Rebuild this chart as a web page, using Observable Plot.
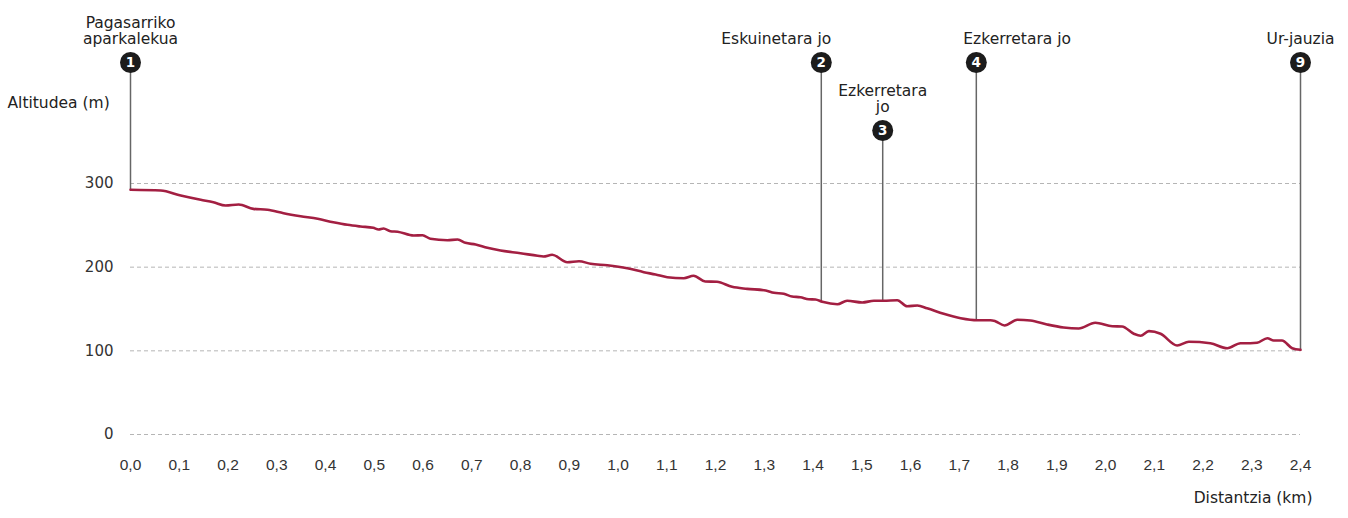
<!DOCTYPE html>
<html>
<head>
<meta charset="utf-8">
<script src="https://cdn.jsdelivr.net/npm/d3@7"></script>
<script src="https://cdn.jsdelivr.net/npm/@observablehq/plot@0.6"></script>
<style>
  html, body { margin: 0; padding: 0; background: #fff; }
  #chart { width: 1348px; height: 518px; }
</style>
</head>
<body>
<div id="chart"></div>
<script>
// Profile: distance (km) and altitude (m)
const distKm = [0.000, 0.062, 0.103, 0.144, 0.170, 0.195, 0.222, 0.252, 0.281, 0.314,
  0.349, 0.384, 0.416, 0.445, 0.472, 0.498, 0.509, 0.519, 0.533, 0.548,
  0.581, 0.599, 0.615, 0.650, 0.671, 0.687, 0.708, 0.732, 0.759, 0.800,
  0.835, 0.847, 0.865, 0.896, 0.920, 0.944, 0.978, 1.019, 1.053, 1.077,
  1.101, 1.135, 1.155, 1.179, 1.203, 1.234, 1.265, 1.303, 1.320, 1.340,
  1.357, 1.374, 1.391, 1.405, 1.419, 1.450, 1.470, 1.501, 1.525, 1.545,
  1.573, 1.593, 1.614, 1.634, 1.668, 1.703, 1.737, 1.764, 1.774, 1.793,
  1.819, 1.846, 1.880, 1.914, 1.945, 1.979, 2.014, 2.034, 2.058, 2.072,
  2.089, 2.113, 2.147, 2.171, 2.215, 2.250, 2.277, 2.297, 2.311, 2.332,
  2.345, 2.362, 2.383, 2.400];
const altM = [292.5, 291.6, 285.6, 280.5, 277.6, 273.7, 274.9, 269.7, 268.6, 264.5,
  260.9, 257.8, 253.7, 250.6, 248.6, 247.0, 245.0, 246.2, 243.0, 242.3,
  237.8, 238.2, 233.9, 232.2, 233.1, 229.1, 227.1, 223.1, 219.9, 216.7,
  213.6, 212.7, 214.8, 205.9, 207.1, 204.0, 202.3, 198.8, 194.0, 191.2,
  188.0, 186.8, 189.7, 182.9, 182.5, 176.5, 174.1, 172.1, 169.4, 168.2,
  164.9, 164.1, 161.7, 161.3, 158.6, 155.7, 159.8, 157.8, 159.8, 159.8,
  160.5, 153.3, 154.2, 150.9, 144.3, 139.0, 136.6, 136.6, 135.4, 130.3,
  137.1, 136.2, 131.5, 127.9, 126.7, 133.5, 129.4, 129.1, 120.4, 118.0,
  123.5, 120.4, 106.4, 110.8, 109.1, 103.1, 109.1, 109.1, 109.6, 115.1,
  112.3, 112.3, 103.1, 101.2];

// Waypoints
const markerIds = ["1", "2", "3", "4", "9"];
const markerLabels = ["Pagasarriko\naparkalekua", "Eskuinetara jo", "Ezkerretara\njo", "Ezkerretara jo", "Ur-jauzia"];
const markerKm = [0.0, 1.417, 1.543, 1.735, 2.4];
const markerAlt = [292.5, 158.6, 159.8, 136.6, 101.2];

// Axes
const xTicks = [0.0, 0.1, 0.2, 0.3, 0.4, 0.5, 0.6, 0.7, 0.8, 0.9, 1.0, 1.1, 1.2,
  1.3, 1.4, 1.5, 1.6, 1.7, 1.8, 1.9, 2.0, 2.1, 2.2, 2.3, 2.4];
const yTicks = [0, 100, 200, 300];
const yTitle = "Altitudea (m)";
const xTitle = "Distantzia (km)";

const profile = distKm.map((km, i) => ({km, alt: altM[i]}));
const markers = markerIds.map((id, i) => ({id, label: markerLabels[i], km: markerKm[i], alt: markerAlt[i]}));
const byId = ids => markers.filter(d => ids.includes(d.id));
const upper = byId(["1", "2", "4", "9"]);
const lower = byId(["3"]);
const yTop = yTicks[yTicks.length - 1];

const upperDy = -121, lowerDy = -53;
const labelFont = "DejaVu Sans, Verdana, sans-serif";
const labelOpts = {x: "km", text: "label", frameAnchor: "top", lineAnchor: "bottom", lineHeight: 1.03, fontSize: 15.5, fill: "#222"};
const numOpts = {x: "km", text: "id", frameAnchor: "top", lineAnchor: "middle", fill: "white", fontWeight: "bold", fontSize: 13.5};

const chart = Plot.plot({
  width: 1348,
  height: 518,
  marginLeft: 130,
  marginRight: 48,
  marginTop: 183,
  marginBottom: 84,
  style: {fontFamily: labelFont, color: "#333", background: "#fff", overflow: "visible"},
  x: {domain: [xTicks[0], xTicks[xTicks.length - 1]]},
  y: {domain: [0, yTop]},
  marks: [
    Plot.gridY({ticks: yTicks, stroke: "#b5b5b5", strokeOpacity: 1, strokeDasharray: "4,3"}),
    Plot.axisY({ticks: yTicks, tickSize: 0, tickPadding: 17, label: null, fontSize: 15, fill: "#333"}),
    Plot.axisX({ticks: xTicks, tickSize: 0, tickPadding: 24, label: null,
      tickFormat: d => d3.format(".1f")(d).replace(".", ","),
      fontFamily: "Liberation Sans, Arial, sans-serif", fontSize: 15.5, fill: "#333"}),
    Plot.ruleX(upper, {x: "km", y1: "alt", y2: () => yTop, insetBottom: -upperDy, stroke: "#666", strokeWidth: 1.5}),
    Plot.ruleX(lower, {x: "km", y1: "alt", y2: () => yTop, insetBottom: -lowerDy, stroke: "#666", strokeWidth: 1.5}),
    Plot.line(profile, {x: "km", y: "alt", stroke: "#a31f42", strokeWidth: 2.6, curve: "monotone-x"}),
    Plot.dot(upper, {x: "km", frameAnchor: "top", dy: upperDy, r: 10.5, fill: "#1c1c1c", stroke: "none"}),
    Plot.dot(lower, {x: "km", frameAnchor: "top", dy: lowerDy, r: 10.5, fill: "#1c1c1c", stroke: "none"}),
    Plot.text(upper, {...numOpts, dy: upperDy}),
    Plot.text(lower, {...numOpts, dy: lowerDy}),
    Plot.text(byId(["1", "9"]), {...labelOpts, dy: upperDy - 19}),
    Plot.text(byId(["2"]), {...labelOpts, dy: upperDy - 19, textAnchor: "end", dx: 10}),
    Plot.text(byId(["4"]), {...labelOpts, dy: upperDy - 19, textAnchor: "start", dx: -13}),
    Plot.text(lower, {...labelOpts, dy: lowerDy - 19}),
    Plot.text([yTitle], {text: d => d, frameAnchor: "top-left", textAnchor: "start", dx: -123, dy: -76, lineAnchor: "bottom", fontSize: 15.5, fill: "#222"}),
    Plot.text([xTitle], {text: d => d, frameAnchor: "bottom-right", textAnchor: "end", dx: 12, dy: 68, lineAnchor: "bottom", fontSize: 15.5, fill: "#222"})
  ]
});
document.getElementById("chart").appendChild(chart);
</script>
</body>
</html>
